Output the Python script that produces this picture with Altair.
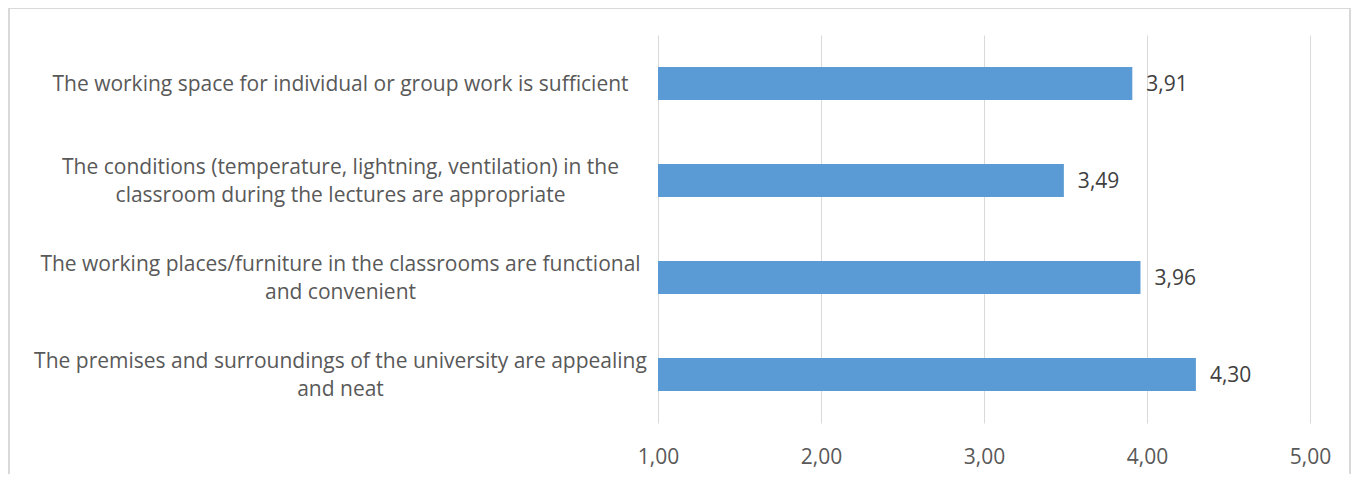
import altair as alt
import pandas as pd

categories = [
    "The working space for individual or group work is sufficient",
    "The conditions (temperature, lightning, ventilation) in the|classroom during the lectures are appropriate",
    "The working places/furniture in the classrooms are functional|and convenient",
    "The premises and surroundings of the university are appealing|and neat",
]
values = [3.91, 3.49, 3.96, 4.30]
x_ticks = [1, 2, 3, 4, 5]

df = pd.DataFrame({"category": categories, "value": values})

FONT = "Open Sans"
LABEL_COLOR = "#595959"
FS = 21

y_enc = alt.Y(
    "category:N",
    sort=categories,
    title=None,
    scale=alt.Scale(paddingInner=0.66, paddingOuter=0.33),
    axis=alt.Axis(
        labelExpr="split(datum.label, '|')",
        labelAlign="center",
        labelBaseline="middle",
        labelPadding=318,
        labelLimit=800,
        labelFontSize=FS,
        labelFont=FONT,
        labelColor=LABEL_COLOR,
        labelLineHeight=28,
        labelOffset={
            "condition": {"test": "indexof(datum.label, '|') >= 0", "value": -13},
            "value": 1,
        },
        ticks=False,
        tickSize=0,
        domain=False,
        grid=False,
    ),
)

x_scale = alt.Scale(domain=[1, 5], nice=False, zero=False)

bars = alt.Chart(df).mark_bar(color="#5b9bd5").encode(
    x=alt.X(
        "value:Q",
        scale=x_scale,
        title=None,
        axis=alt.Axis(
            values=x_ticks,
            labelExpr="replace(format(datum.value, '.2f'), '.', ',')",
            labelFontSize=FS,
            labelFont=FONT,
            labelColor=LABEL_COLOR,
            labelPadding=23,
            labelFlush=False,
            ticks=False,
            domain=False,
            grid=True,
            gridColor="#d9d9d9",
            gridWidth=1,
        ),
    ),
    x2=alt.datum(1),
    y=y_enc,
)

text = alt.Chart(df).transform_calculate(
    lab="replace(format(datum.value, '.2f'), '.', ',')"
).mark_text(
    align="left", baseline="middle", dx=14, dy=1, fontSize=FS, font=FONT, color="#404040"
).encode(
    x=alt.X("value:Q", scale=x_scale),
    y=alt.Y("category:N", sort=categories),
    text="lab:N",
)

border = alt.Chart(df).mark_rect(
    fill=None, stroke="#d9d9d9", strokeWidth=1.5
).encode(
    x=alt.value(-649),
    x2=alt.value(692),
    y=alt.value(-27),
    y2=alt.value(470),
)

chart = alt.layer(border, bars, text).properties(
    width=652,
    height=388,
    background="white",
    autosize=alt.AutoSizeParams(type="none"),
    padding={"left": 650, "top": 27, "right": 42, "bottom": 51},
).configure_view(stroke=None)

chart.save("out.html", embed_options={"renderer": "svg", "actions": False})
